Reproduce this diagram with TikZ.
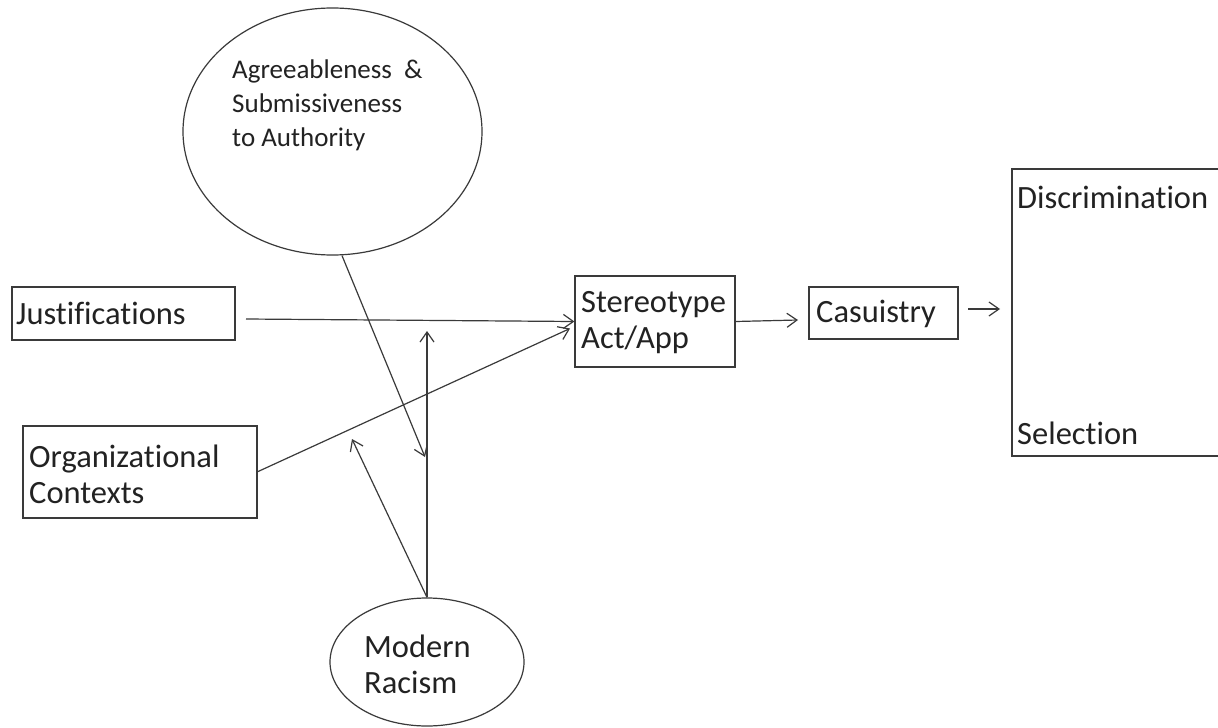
\documentclass[tikz,border=0pt]{standalone}
\usepackage{fontspec}
\setmainfont[Ligatures=NoCommon]{Carlito}
\usetikzlibrary{shapes.geometric,arrows.meta}
\definecolor{ink}{HTML}{3A3A3A}
\definecolor{txt}{HTML}{222222}
\tikzset{
  box/.style={draw=ink, line width=1.2pt, rectangle, inner sep=0pt, text=txt},
  oval/.style={draw=ink, line width=1.2pt, ellipse, inner sep=0pt},
  big/.style={font=\fontsize{32.5}{36}\selectfont, text=txt, align=left, inner sep=0pt},
  small/.style={font=\fontsize{27}{34}\selectfont, text=txt, align=left, inner sep=0pt},
  arr/.style={draw=ink, line width=1.2pt, -{Straight Barb[length=10pt,width=14pt,line width=1.2pt]}},
}
\begin{document}
\begin{tikzpicture}[x=1pt,y=-1pt]
\clip (0,0) rectangle (1218,728);
\fill[white] (0,0) rectangle (1218,728);

% ellipses
\node[oval, minimum width=299pt, minimum height=247pt] (agree) at (332.5,131.5) {};
\node[small, anchor=west] (agreetxt) at (232,105) {Agreeableness \ \&\\Submissiveness\\to Authority};
\node[oval, minimum width=194pt, minimum height=128pt] (mr) at (427,662) {};
\node[big, anchor=west] (mrtxt) at (364,664) {Modern\\Racism};

% boxes
\node[box, minimum width=223pt, minimum height=53pt] (just) at (123.5,313.5) {};
\node[big, anchor=west] (justtxt) at (16,313) {Justifications};
\node[box, minimum width=234pt, minimum height=92pt] (org) at (140,472) {};
\node[big, anchor=west] (orgtxt) at (29,474) {Organizational\\Contexts};
\node[box, minimum width=160pt, minimum height=91pt] (stereo) at (655,321.5) {};
\node[big, anchor=west] (stereotxt) at (581,323) {Stereotype\\Act/App};
\node[box, minimum width=149pt, minimum height=52pt] (cas) at (883.5,313) {};
\node[big, anchor=west] (castxt) at (816,314) {Casuistry};
\node[box, minimum width=240pt, minimum height=287pt] (out) at (1132,312.5) {};
\node[big, anchor=west] (disc) at (1017,197) {Discrimination};
\node[big, anchor=west] (sel) at (1017,433) {Selection};

% free ends
\coordinate (jstart) at (246,319);
\coordinate (ostart) at (257,472);
\coordinate (otip) at (570,328.5);
\coordinate (amid) at (425,457);
\coordinate (vtip) at (427,331);
\coordinate (mtip) at (352,439);
\coordinate (ctip) at (798,320);
\coordinate (s1) at (968,309);
\coordinate (s2) at (1000,309);

% connectors
\draw[arr] (jstart) -- (stereo.west);
\draw[arr] (ostart) -- (otip);
\draw[arr] ([xshift=9.5pt]agree.south) -- (amid);
\draw[arr] (mr.north) -- (vtip);
\draw[arr] (mr.north) -- (mtip);
\draw[arr] (stereo.east) -- (ctip);
\draw[arr] (s1) -- (s2);
\end{tikzpicture}
\end{document}
